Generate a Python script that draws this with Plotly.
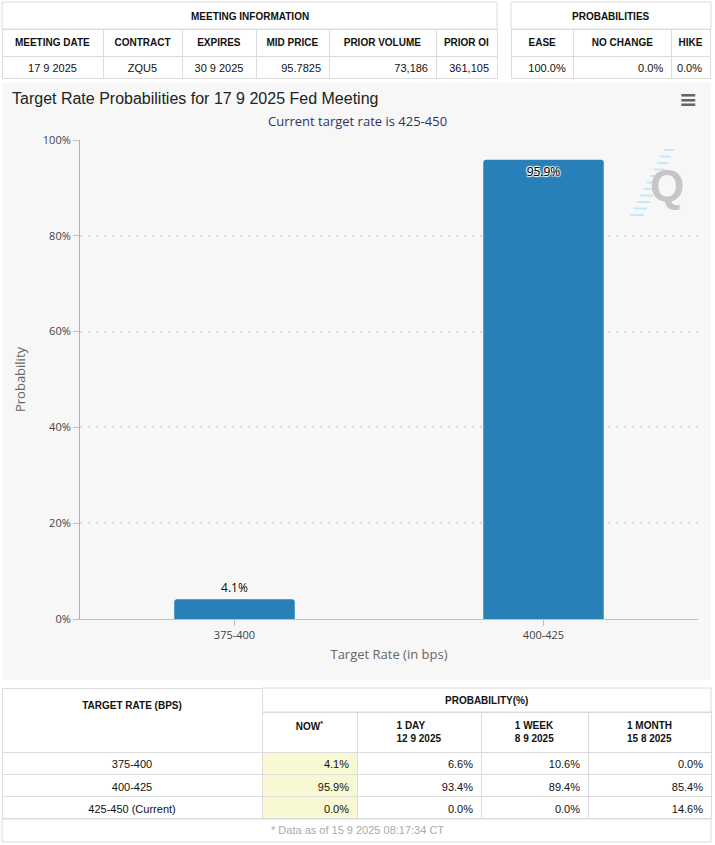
import plotly.graph_objects as go

# ---- data ----
meeting_title = "MEETING INFORMATION"
meeting_cols = ["MEETING DATE", "CONTRACT", "EXPIRES", "MID PRICE", "PRIOR VOLUME", "PRIOR OI"]
meeting_vals = ["17 9 2025", "ZQU5", "30 9 2025", "95.7825", "73,186", "361,105"]

prob_title = "PROBABILITIES"
prob_cols = ["EASE", "NO CHANGE", "HIKE"]
prob_vals = ["100.0%", "0.0%", "0.0%"]

chart_rates = ["375-400", "400-425"]
chart_probs = [4.1, 95.9]

rate_title = "TARGET RATE (BPS)"
hist_title = "PROBABILITY(%)"
table_rates = ["375-400", "400-425", "425-450 (Current)"]
hist_cols = ["NOW<sup>*</sup>", "1 DAY<br>12 9 2025", "1 WEEK<br>8 9 2025", "1 MONTH<br>15 8 2025"]
prob_now = ["4.1%", "95.9%", "0.0%"]
prob_1day = ["6.6%", "93.4%", "0.0%"]
prob_1week = ["10.6%", "89.4%", "0.0%"]
prob_1month = ["0.0%", "85.4%", "14.6%"]

footnote = "* Data as of 15 9 2025 08:17:34 CT"
title = "Target Rate Probabilities for 17 9 2025 Fed Meeting"
subtitle = "Current target rate is 425-450"

W, H = 715, 845
TFONT = "Liberation Sans, Arial"
LINE = "#dcdcdc"


def px_x(a, b):
    return [a / W, b / W]


def px_y(top, bottom):
    return [1 - bottom / H, 1 - top / H]


def bold(lst):
    # keep header words on one line
    return ["<b>%s</b>" % s.replace(" ", "\u00a0") for s in lst]


def box(x0, x1, top, bottom, fill="white"):
    return dict(type="rect", xref="paper", yref="paper", x0=x0 / W, x1=x1 / W,
                y0=1 - bottom / H, y1=1 - top / H, fillcolor=fill,
                line=dict(color=LINE, width=1), layer="below")


def label(text, x, y, size=10, color="#111", is_bold=True):
    return dict(text="<b>%s</b>" % text if is_bold else text, xref="paper", yref="paper",
                x=x / W, y=1 - y / H, xanchor="center", yanchor="middle", showarrow=False,
                font=dict(family=TFONT, size=size, color=color))


fig = go.Figure()

# top tables
fig.add_trace(go.Table(
    domain=dict(x=px_x(2, 497), y=px_y(29, 90)),
    columnwidth=[101, 79, 74, 73, 107, 61],
    header=dict(values=bold(meeting_cols), height=22, fill_color="white", line_color=LINE,
                align="center", font=dict(family=TFONT, size=10, color="#111")),
    cells=dict(values=[[v] for v in meeting_vals], height=22, fill_color="white", line_color=LINE,
               align=["center", "center", "center", "right", "right", "right"],
               font=dict(family=TFONT, size=11, color="#111")),
))
fig.add_trace(go.Table(
    domain=dict(x=px_x(511, 711), y=px_y(29, 90)),
    columnwidth=[63, 98, 39],
    header=dict(values=bold(prob_cols), height=22, fill_color="white", line_color=LINE,
                align="center", font=dict(family=TFONT, size=10, color="#111")),
    cells=dict(values=[[v] for v in prob_vals], height=22, fill_color="white", line_color=LINE,
               align="right", font=dict(family=TFONT, size=11, color="#111")),
))

# bottom tables
yellow = "#f8f8d2"
fig.add_trace(go.Table(
    domain=dict(x=px_x(2, 262), y=px_y(688, 845)),
    header=dict(values=["<b><br>%s</b>" % rate_title], height=64, fill_color="white",
                line_color=LINE, align="center", font=dict(family=TFONT, size=10, color="#111")),
    cells=dict(values=[table_rates], height=22.3, fill_color="white", line_color=LINE,
               align="center", font=dict(family=TFONT, size=11, color="#111")),
))
fig.add_trace(go.Table(
    domain=dict(x=px_x(262, 711), y=px_y(712, 845)),
    columnwidth=[95, 124, 107, 123],
    header=dict(values=["<b>%s</b>" % c for c in hist_cols], height=34, fill_color="white",
                line_color=LINE, align="center", font=dict(family=TFONT, size=10, color="#111")),
    cells=dict(values=[prob_now, prob_1day, prob_1week, prob_1month], height=22.3,
               fill_color=[yellow, "white", "white", "white"], line_color=LINE,
               align="right", font=dict(family=TFONT, size=11, color="#111")),
))

# bar chart
fig.add_trace(go.Bar(
    x=chart_rates, y=chart_probs, width=0.39,
    marker=dict(color="#2980b9", cornerradius=3, line_width=0),
    texttemplate="%{y:.1f}%", textposition="auto", insidetextanchor="end",
    textfont=dict(family="Open Sans, DejaVu Sans", size=12, color="#000",
                  shadow="1px 1px 1px #fff, -1px -1px 1px #fff, 1px -1px 1px #fff, -1px 1px 1px #fff"),
    cliponaxis=False, hoverinfo="x+y",
))

# light blue stripes of the watermark logo
stripes = [dict(type="line", xref="paper", yref="paper",
                x0=(664 - 3.4 * i) / W, x1=(674 - 3.0 * i) / W,
                y0=1 - (150 + 6.5 * i) / H, y1=1 - (150 + 6.5 * i) / H,
                line=dict(color="#c4e8f7", width=2), layer="below")
           for i in range(11)]

fig.update_layout(
    width=W, height=H, autosize=False,
    margin=dict(l=0, r=0, t=0, b=0, pad=0, autoexpand=False),
    paper_bgcolor="white", plot_bgcolor="rgba(0,0,0,0)",
    showlegend=False,
    title=dict(text=title, x=12 / W, xanchor="left", y=1 - 98 / H, yanchor="middle",
               automargin=False,
               font=dict(family="Liberation Sans, Arial", size=16, color="#222")),
    xaxis=dict(domain=px_x(80, 698), showgrid=False, showline=True, linecolor="#c0c0c0",
               ticks="outside", ticklen=6, tickcolor="#c0c0c0", automargin=False,
               tickfont=dict(family="Open Sans, DejaVu Sans", size=11, color="#444"),
               title=dict(text="Target Rate (in bps)", standoff=8,
                          font=dict(family="Open Sans, DejaVu Sans", size=13, color="#666"))),
    yaxis=dict(domain=px_y(140, 619), range=[0, 100], dtick=20, ticksuffix="%",
               showline=True, linecolor="#b0b0b0", ticks="outside", ticklen=6, tickcolor="#c0c0c0",
               showgrid=True, gridcolor="#d9d9d9", griddash="2px,6px", gridwidth=2, zeroline=False,
               automargin=False,
               tickfont=dict(family="Open Sans, DejaVu Sans", size=11, color="#444"),
               title=dict(text="Probability", standoff=14,
                          font=dict(family="Open Sans, DejaVu Sans", size=13, color="#666"))),
    shapes=[
        dict(type="rect", xref="paper", yref="paper", x0=2 / W, x1=711 / W,
             y0=1 - 680 / H, y1=1 - 83 / H, fillcolor="#f7f7f7", line_width=0, layer="below"),
        box(2, 497, 2, 29),
        box(511, 711, 2, 29),
        box(262, 711, 688, 712),
        box(2, 711, 819, 842),
    ] + stripes,
    annotations=[
        label(meeting_title, 250, 16),
        label(prob_title, 611, 16),
        label(hist_title, 486, 700),
        label(footnote, 357, 830, size=11, color="#aaa", is_bold=False),
        dict(text=subtitle, xref="paper", yref="paper", x=0.5, y=1 - 121 / H, showarrow=False,
             xanchor="center", yanchor="middle",
             font=dict(family="Open Sans, DejaVu Sans", size=13, color="#333366")),
        dict(text="<b>≡</b>", xref="paper", yref="paper", x=688 / W, y=1 - 100 / H, showarrow=False,
             xanchor="center", yanchor="middle",
             font=dict(family="DejaVu Sans", size=22, color="#666")),
        dict(text="<b>Q</b>", xref="paper", yref="paper", x=667 / W, y=1 - 186 / H, showarrow=False,
             xanchor="center", yanchor="middle",
             font=dict(family="Liberation Sans, Arial", size=44, color="#c6c6c6")),
    ],
)

fig.write_html("out.html", config={"displayModeBar": False},
               post_script="document.body.style.margin='0';")
